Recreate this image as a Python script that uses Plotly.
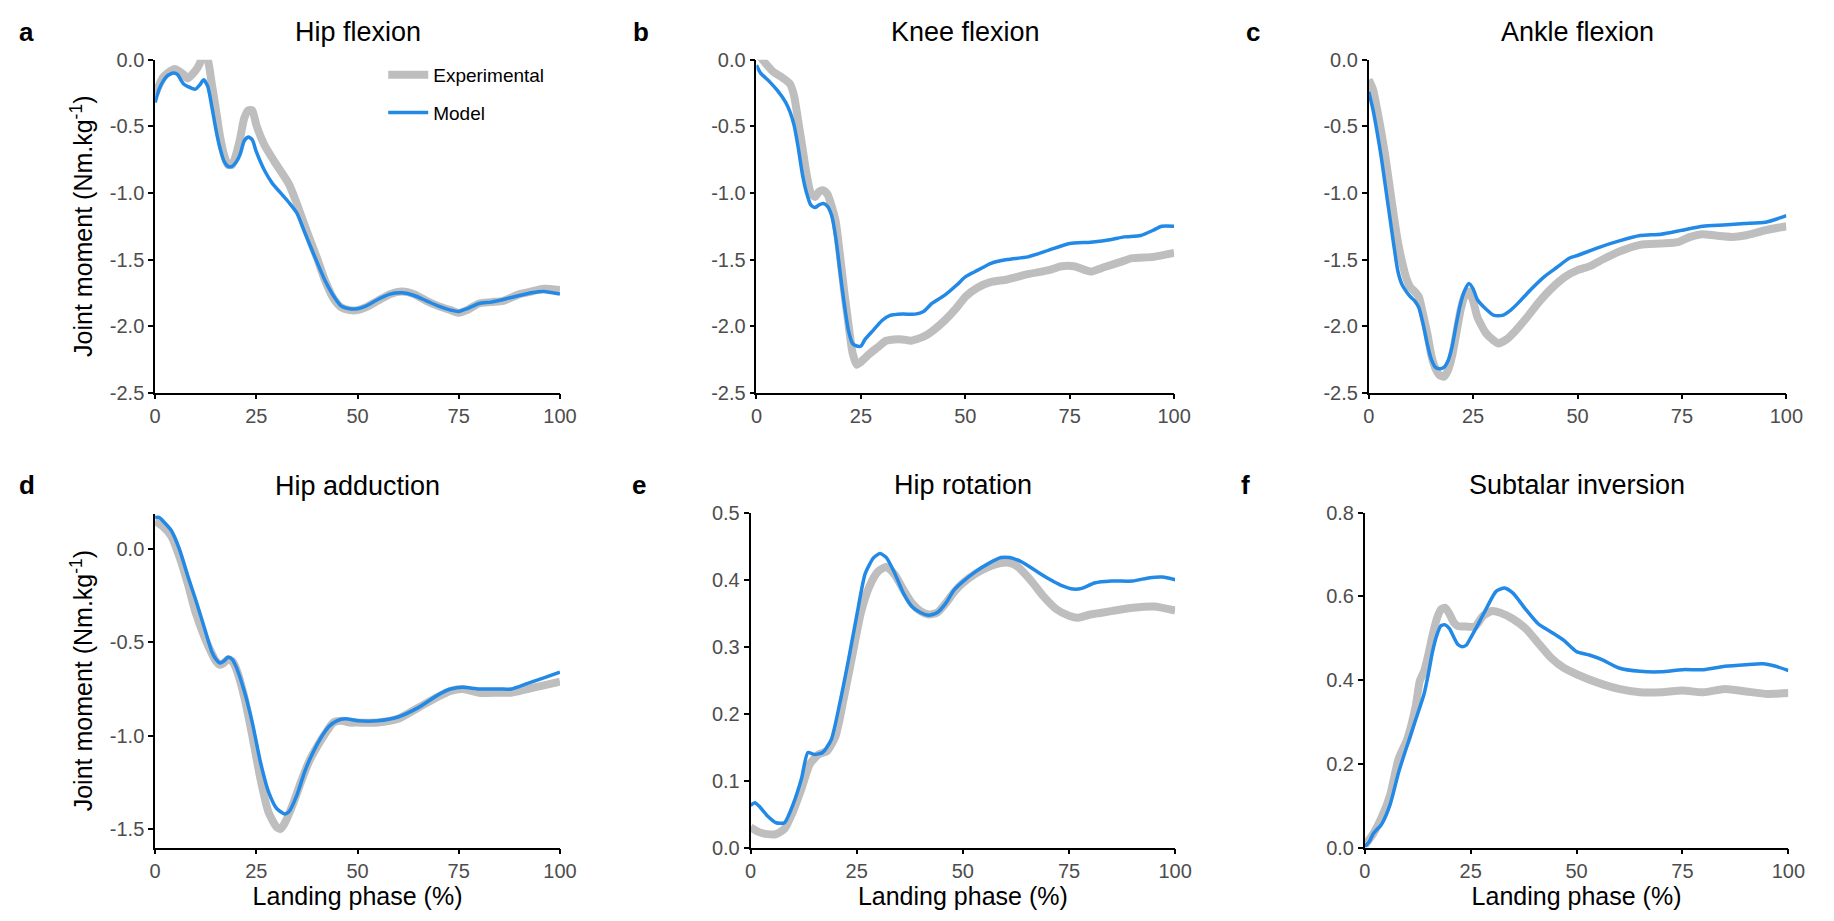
import plotly.graph_objects as go

# ---------------- data ----------------
# a  Hip flexion
a_exp_x = [0,2,4,5,7,8,10,11,12,13,14,15,16,17,18,19,20,21,22,23,24,25,27,30,33,35,37,40,42,44,46,48,50,52,55,58,61,64,67,70,73,75,77,80,83,86,90,93,96,100]
a_exp_y = [-0.26,-0.13,-0.08,-0.07,-0.11,-0.14,-0.08,-0.03,0.04,0.0,-0.18,-0.37,-0.57,-0.71,-0.79,-0.79,-0.71,-0.59,-0.44,-0.38,-0.38,-0.49,-0.64,-0.79,-0.93,-1.08,-1.25,-1.49,-1.66,-1.79,-1.86,-1.88,-1.88,-1.86,-1.81,-1.76,-1.74,-1.76,-1.81,-1.85,-1.88,-1.90,-1.88,-1.83,-1.82,-1.81,-1.76,-1.74,-1.72,-1.73]
a_mod_x = [0,1,2,3,4.5,5.5,7,8,10,11,12,13,14,15,16,17,18,19,20,21,22,23,24,25,27,29,31,33,35,37,40,42,44,46,48,50,52,55,58,61,64,67,70,73,75,77,80,83,86,90,93,96,100]
a_mod_y = [-0.32,-0.22,-0.16,-0.12,-0.10,-0.11,-0.18,-0.20,-0.22,-0.19,-0.15,-0.20,-0.35,-0.52,-0.66,-0.76,-0.80,-0.80,-0.77,-0.71,-0.61,-0.58,-0.60,-0.69,-0.83,-0.93,-1.00,-1.07,-1.15,-1.30,-1.52,-1.66,-1.77,-1.85,-1.87,-1.87,-1.85,-1.80,-1.76,-1.75,-1.77,-1.81,-1.85,-1.88,-1.89,-1.87,-1.83,-1.82,-1.80,-1.77,-1.75,-1.74,-1.76]

# b  Knee flexion
b_exp_x = [0,2,4,6,8,9,10,11,12,13,14,15,16,17,18,19,20,21,22,23,24,25,27,29,31,33,35,37,40,42,45,48,50,53,56,60,65,70,73,76,80,83,87,90,95,100]
b_exp_y = [0.06,-0.02,-0.09,-0.13,-0.18,-0.27,-0.46,-0.66,-0.86,-1.00,-1.03,-0.99,-0.98,-1.01,-1.10,-1.22,-1.47,-1.74,-1.98,-2.20,-2.29,-2.27,-2.21,-2.16,-2.11,-2.10,-2.10,-2.11,-2.08,-2.04,-1.96,-1.86,-1.78,-1.71,-1.67,-1.65,-1.61,-1.58,-1.55,-1.55,-1.59,-1.56,-1.52,-1.49,-1.48,-1.45]
b_mod_x = [0,1,3,5,7,8,9,10,11,12,13,14,15,16,17,18,19,20,21,22,23,24,25,26,28,30,32,35,38,40,42,45,48,50,53,56,60,65,70,75,80,85,88,92,95,97,100]
b_mod_y = [-0.04,-0.10,-0.16,-0.23,-0.32,-0.39,-0.49,-0.66,-0.86,-1.00,-1.09,-1.11,-1.09,-1.08,-1.10,-1.17,-1.34,-1.59,-1.83,-2.03,-2.13,-2.15,-2.15,-2.10,-2.03,-1.96,-1.92,-1.91,-1.91,-1.89,-1.83,-1.77,-1.69,-1.63,-1.58,-1.53,-1.50,-1.48,-1.43,-1.38,-1.37,-1.35,-1.33,-1.32,-1.28,-1.25,-1.25]

# c  Ankle flexion
c_exp_x = [0,1,2,3,4,5,6,7,8,9,10,11,12,13,14,15,16,17,18,19,20,21,22,23,24,25,26,28,30,31,33,35,38,41,44,47,50,53,56,60,65,70,74,77,80,83,87,90,95,100]
c_exp_y = [-0.15,-0.22,-0.37,-0.54,-0.73,-0.95,-1.17,-1.37,-1.52,-1.64,-1.71,-1.74,-1.78,-1.91,-2.05,-2.22,-2.32,-2.37,-2.38,-2.33,-2.22,-2.05,-1.88,-1.77,-1.74,-1.81,-1.93,-2.05,-2.11,-2.13,-2.10,-2.04,-1.93,-1.81,-1.71,-1.63,-1.58,-1.55,-1.50,-1.44,-1.39,-1.38,-1.37,-1.33,-1.31,-1.32,-1.33,-1.32,-1.28,-1.25]
c_mod_x = [0,1,2,3,4,5,6,7,8,9,10,11,12,13,14,15,16,17,18,19,20,21,22,23,24,25,26,28,30,32,34,36,39,42,45,48,50,55,60,65,70,75,80,85,90,95,100]
c_mod_y = [-0.24,-0.37,-0.54,-0.73,-0.95,-1.17,-1.39,-1.59,-1.69,-1.74,-1.78,-1.81,-1.86,-1.98,-2.13,-2.25,-2.31,-2.32,-2.31,-2.26,-2.15,-1.98,-1.83,-1.73,-1.68,-1.72,-1.80,-1.87,-1.92,-1.92,-1.88,-1.82,-1.72,-1.63,-1.56,-1.49,-1.47,-1.41,-1.36,-1.32,-1.31,-1.28,-1.25,-1.24,-1.23,-1.22,-1.17]

# d  Hip adduction
d_exp_x = [0,2,4,6,8,10,12,14,15,16,17,18,19,20,22,24,26,28,30,31,32,34,36,38,40,42,44,46,48,50,55,60,65,70,73,76,80,85,88,92,96,100]
d_exp_y = [0.15,0.12,0.07,-0.04,-0.18,-0.34,-0.46,-0.56,-0.60,-0.62,-0.61,-0.59,-0.60,-0.64,-0.79,-1.00,-1.23,-1.41,-1.49,-1.50,-1.47,-1.37,-1.25,-1.14,-1.06,-0.99,-0.93,-0.92,-0.93,-0.93,-0.93,-0.91,-0.85,-0.79,-0.76,-0.75,-0.77,-0.77,-0.77,-0.75,-0.73,-0.71]
d_mod_x = [0,1,2,4,6,8,10,12,14,15,16,17,18,19,20,22,24,26,28,30,32,33,35,37,39,41,43,45,47,50,55,60,65,70,73,76,80,85,88,92,96,100]
d_mod_y = [0.17,0.17,0.15,0.10,0.0,-0.14,-0.27,-0.41,-0.55,-0.59,-0.61,-0.60,-0.58,-0.59,-0.63,-0.76,-0.93,-1.14,-1.30,-1.39,-1.42,-1.41,-1.32,-1.19,-1.09,-1.01,-0.95,-0.92,-0.91,-0.92,-0.92,-0.90,-0.85,-0.78,-0.75,-0.74,-0.75,-0.75,-0.75,-0.72,-0.69,-0.66]

# e  Hip rotation
e_exp_x = [0,2,4,6,8,10,12,14,16,18,20,22,24,26,28,30,32,34,36,38,40,42,44,46,48,50,53,56,59,61,63,66,69,72,75,77,80,85,90,95,100]
e_exp_y = [0.030,0.023,0.020,0.020,0.028,0.054,0.088,0.125,0.139,0.144,0.166,0.224,0.288,0.351,0.390,0.412,0.419,0.407,0.385,0.365,0.353,0.348,0.351,0.365,0.382,0.395,0.409,0.419,0.425,0.425,0.419,0.399,0.375,0.356,0.346,0.343,0.348,0.353,0.358,0.360,0.354]
e_mod_x = [0,1,2,4,6,8,10,12,13.5,15,17,19,21,23,25,27,29,30.5,32,34,36,38,40,42,44,46,48,50,53,56,59,61,64,67,70,73,76,78,81,85,90,94,97,100]
e_mod_y = [0.063,0.067,0.062,0.047,0.037,0.037,0.064,0.103,0.142,0.139,0.142,0.161,0.215,0.278,0.346,0.409,0.433,0.439,0.433,0.409,0.380,0.360,0.351,0.347,0.351,0.365,0.385,0.397,0.412,0.424,0.433,0.433,0.426,0.414,0.402,0.392,0.386,0.387,0.395,0.398,0.398,0.403,0.404,0.400]

# f  Subtalar inversion
f_exp_x = [0,2,4,6,8,10,12,13,14,15,16,17,18,19,20,21,22,24,26,28,30,32,35,38,41,44,47,50,55,60,65,70,75,80,85,90,95,100]
f_exp_y = [0.005,0.033,0.072,0.126,0.212,0.258,0.336,0.398,0.421,0.46,0.507,0.546,0.569,0.573,0.558,0.538,0.529,0.528,0.528,0.554,0.565,0.561,0.546,0.523,0.488,0.453,0.429,0.414,0.394,0.379,0.371,0.371,0.375,0.371,0.379,0.373,0.367,0.369]
f_mod_x = [0,1,2,4,6,8,10,12,14,15,16,17,18,19,20,21,22,23,24,25,27,29,31,33,35,38,41,44,47,50,53,56,60,65,70,75,80,85,90,94,97,100]
f_mod_y = [0.002,0.013,0.033,0.056,0.103,0.180,0.243,0.305,0.367,0.414,0.468,0.507,0.530,0.532,0.523,0.503,0.485,0.480,0.484,0.501,0.538,0.577,0.612,0.620,0.608,0.569,0.534,0.515,0.495,0.468,0.460,0.449,0.429,0.421,0.420,0.425,0.425,0.433,0.437,0.439,0.433,0.423]

panel_titles = ["Hip flexion", "Knee flexion", "Ankle flexion",
                "Hip adduction", "Hip rotation", "Subtalar inversion"]
panel_letters = ["a", "b", "c", "d", "e", "f"]
series_names = ["Experimental", "Model"]

x_ticks = [0, 25, 50, 75, 100]
x_ticktext = ["0", "25", "50", "75", "100"]
y_ticks_top = [-2.5, -2.0, -1.5, -1.0, -0.5, 0.0]
y_ticktext_top = ["-2.5", "-2.0", "-1.5", "-1.0", "-0.5", "0.0"]
y_ticks_d = [-1.5, -1.0, -0.5, 0.0]
y_ticktext_d = ["-1.5", "-1.0", "-0.5", "0.0"]
y_ticks_e = [0.0, 0.1, 0.2, 0.3, 0.4, 0.5]
y_ticktext_e = ["0.0", "0.1", "0.2", "0.3", "0.4", "0.5"]
y_ticks_f = [0.0, 0.2, 0.4, 0.6, 0.8]
y_ticktext_f = ["0.0", "0.2", "0.4", "0.6", "0.8"]

y_title = "Joint moment (Nm.kg<sup>-1</sup>)"
x_title = "Landing phase (%)"

# ---------------- layout geometry (pixels) ----------------
W, H = 1834, 921
FONT = "Arial, 'Liberation Sans', sans-serif"
GREY = "#BEBEBE"
BLUE = "#2389E6"
TICKCOL = "#4D4D4D"

panels = [
    dict(xd=(151, 561), yd=(50, 391), yr=[-2.5, 0.0], yt=y_ticks_top, ytt=y_ticktext_top,
         exp=(a_exp_x, a_exp_y), mod=(a_mod_x, a_mod_y), ytitle=True, xtitle=False),
    dict(xd=(760, 1183), yd=(50, 391), yr=[-2.5, 0.0], yt=y_ticks_top, ytt=y_ticktext_top,
         exp=(b_exp_x, b_exp_y), mod=(b_mod_x, b_mod_y), ytitle=False, xtitle=False),
    dict(xd=(1380, 1803), yd=(50, 391), yr=[-2.5, 0.0], yt=y_ticks_top, ytt=y_ticktext_top,
         exp=(c_exp_x, c_exp_y), mod=(c_mod_x, c_mod_y), ytitle=False, xtitle=False),
    dict(xd=(151, 561), yd=(515, 857), yr=[-1.6, 0.19], yt=y_ticks_d, ytt=y_ticktext_d,
         exp=(d_exp_x, d_exp_y), mod=(d_mod_x, d_mod_y), ytitle=True, xtitle=True),
    dict(xd=(754, 1184), yd=(514, 857), yr=[0.0, 0.5], yt=y_ticks_e, ytt=y_ticktext_e,
         exp=(e_exp_x, e_exp_y), mod=(e_mod_x, e_mod_y), ytitle=False, xtitle=True),
    dict(xd=(1376, 1805), yd=(514, 857), yr=[0.0, 0.8], yt=y_ticks_f, ytt=y_ticktext_f,
         exp=(f_exp_x, f_exp_y), mod=(f_mod_x, f_mod_y), ytitle=False, xtitle=True),
]

fig = go.Figure()
layout = dict(
    width=W, height=H,
    margin=dict(l=0, r=0, t=0, b=0),
    paper_bgcolor="white", plot_bgcolor="white",
    font=dict(family=FONT, color="black"),
    showlegend=True,
    legend=dict(x=382 / W, y=1 - 46 / H, xanchor="left", yanchor="top",
                bgcolor="rgba(0,0,0,0)", font=dict(size=19, color="black"),
                traceorder="grouped", tracegroupgap=10, itemwidth=40),
)
annotations = []

for i, p in enumerate(panels):
    n = "" if i == 0 else str(i + 1)
    xa, ya = "x" + n, "y" + n
    fig.add_trace(go.Scatter(x=p["exp"][0], y=p["exp"][1], mode="lines",
                             line=dict(color=GREY, width=8, shape="spline", smoothing=0.6),
                             name=series_names[0], legendgroup="exp", showlegend=(i == 0),
                             xaxis=xa, yaxis=ya))
    fig.add_trace(go.Scatter(x=p["mod"][0], y=p["mod"][1], mode="lines",
                             line=dict(color=BLUE, width=3.5, shape="spline", smoothing=0.6),
                             name=series_names[1], legendgroup="mod", showlegend=(i == 0),
                             xaxis=xa, yaxis=ya))
    x0, x1 = p["xd"]
    y0, y1 = p["yd"]
    common = dict(showline=True, linecolor="black", linewidth=1.6, ticks="outside",
                  ticklen=5, tickwidth=1.6, tickcolor="black", showgrid=False,
                  zeroline=False, tickfont=dict(size=20, color=TICKCOL, family=FONT))
    layout["xaxis" + n] = dict(
        domain=[x0 / W, x1 / W], anchor=ya, range=[0, 100],
        tickvals=x_ticks, ticktext=x_ticktext,
        title=dict(text=x_title if p["xtitle"] else "", font=dict(size=25, color="black"),
                   standoff=5),
        **common)
    layout["yaxis" + n] = dict(
        domain=[1 - y1 / H, 1 - y0 / H], anchor=xa, range=p["yr"],
        tickvals=p["yt"], ticktext=p["ytt"],
        title=dict(text=y_title if p["ytitle"] else "", font=dict(size=25, color="black"),
                   standoff=10),
        **common)
    cx = (x0 + x1) / 2
    annotations.append(dict(text=panel_titles[i], x=cx / W, y=1 - (y0 - 28) / H,
                            xref="paper", yref="paper", xanchor="center", yanchor="middle",
                            showarrow=False, font=dict(size=27, color="black", family=FONT)))

letter_pos = [(21, 22), (643, 22), (1263, 22), (21, 486), (641, 486), (1255, 486)]
for (lx, ly), t in zip(letter_pos, panel_letters):
    annotations.append(dict(text="<b>" + t + "</b>", x=lx / W, y=1 - ly / H,
                            xref="paper", yref="paper", xanchor="center", yanchor="middle",
                            showarrow=False, font=dict(size=26, color="black", family=FONT)))

layout["annotations"] = annotations
fig.update_layout(**layout)
fig.write_html("out.html", config={"displayModeBar": False},
               post_script="document.body.style.margin='0';document.body.style.overflow='hidden';")
